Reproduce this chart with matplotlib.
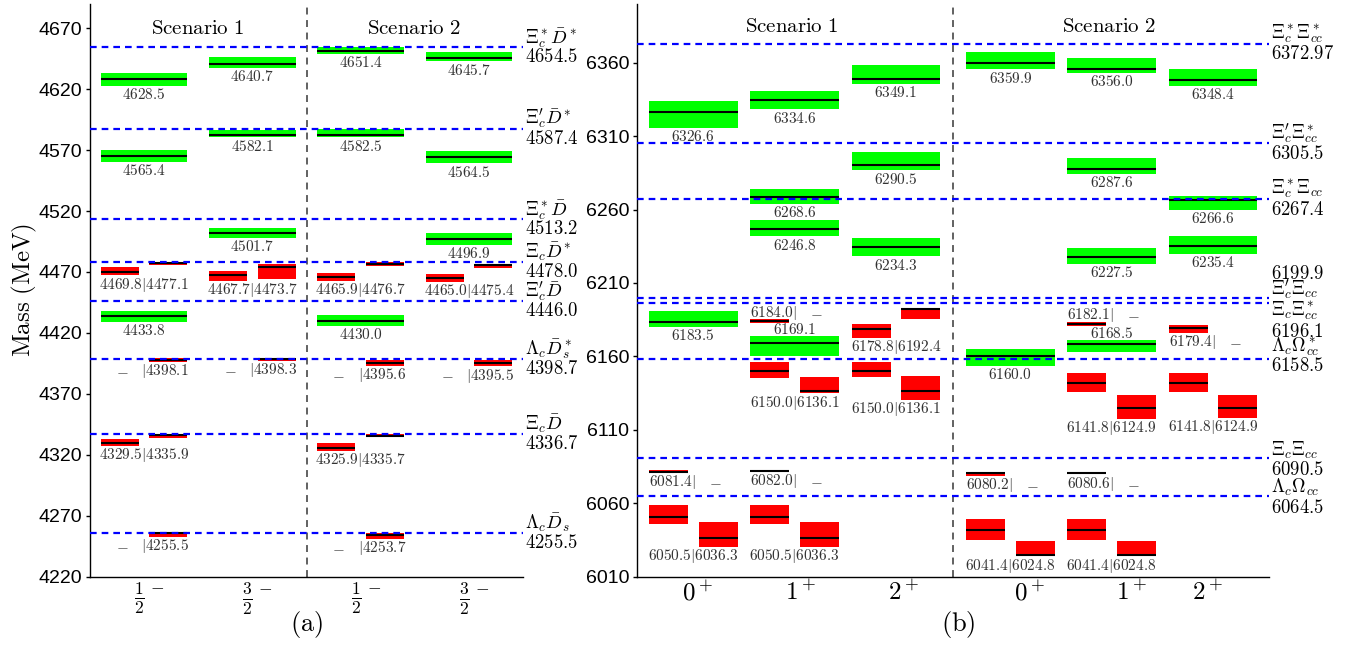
import numpy as np
import matplotlib
matplotlib.use('Agg')
import matplotlib.pyplot as plt

plt.rcParams['font.family'] = ['Liberation Sans', 'DejaVu Sans']
plt.rcParams['mathtext.fontset'] = 'cm'
plt.rcParams['lines.scale_dashes'] = False

nan = np.nan

# ---------------- Panel (a) data ----------------
a_tick_labels = [r'$\frac{1}{2}^-$', r'$\frac{3}{2}^-$', r'$\frac{1}{2}^-$', r'$\frac{3}{2}^-$']
scenario_names = ['Scenario 1', 'Scenario 2']

a_thr_names = [r'$\Xi_c^*\bar{D}^*$', r'$\Xi_c^{\prime}\bar{D}^*$', r'$\Xi_c^*\bar{D}$',
               r'$\Xi_c\bar{D}^*$', r'$\Xi_c^{\prime}\bar{D}$', r'$\Lambda_c\bar{D}_s^*$',
               r'$\Xi_c\bar{D}$', r'$\Lambda_c\bar{D}_s$']
a_thr_mass = [4654.5, 4587.4, 4513.2, 4478.0, 4446.0, 4398.7, 4336.7, 4255.5]

a_green_group = [0, 0, 0, 1, 1, 1, 2, 2, 2, 3, 3, 3]
a_green_mass = [4628.5, 4565.4, 4433.8, 4640.7, 4582.1, 4501.7,
                4651.4, 4582.5, 4430.0, 4645.7, 4564.5, 4496.9]
a_green_lo = [4622.9, 4560.5, 4429.2, 4637.7, 4580.6, 4498.2,
              4649.2, 4580.6, 4425.9, 4643.2, 4559.2, 4492.2]
a_green_hi = [4633.4, 4570.2, 4438.0, 4646.3, 4586.6, 4505.9,
              4655.0, 4587.4, 4434.7, 4650.9, 4569.6, 4501.8]

a_pair_group = [0, 0, 0, 0, 1, 1, 2, 2, 2, 2, 3, 3]
a_pair_left = [4469.8, nan, 4329.5, nan, 4467.7, nan, 4465.9, nan, 4325.9, nan, 4465.0, nan]
a_pair_left_lo = [4467.3, nan, 4327.4, nan, 4462.6, nan, 4462.9, nan, 4323.3, nan, 4462.0, nan]
a_pair_left_hi = [4474.3, nan, 4332.6, nan, 4470.8, nan, 4468.9, nan, 4329.4, nan, 4468.4, nan]
a_pair_right = [4477.1, 4398.1, 4335.9, 4255.5, 4473.7, 4398.3,
                4476.7, 4395.6, 4335.7, 4253.7, 4475.4, 4395.5]
a_pair_right_lo = [4475.7, 4396.4, 4334.0, 4252.7, 4464.3, 4397.2,
                   4475.2, 4393.1, 4334.8, 4251.0, 4473.0, 4392.8]
a_pair_right_hi = [4478.5, 4399.1, 4337.0, 4256.3, 4476.6, 4399.1,
                   4478.0, 4397.7, 4337.0, 4255.5, 4476.6, 4397.7]

# ---------------- Panel (b) data ----------------
b_tick_labels = [r'$0^+$', r'$1^+$', r'$2^+$', r'$0^+$', r'$1^+$', r'$2^+$']

b_thr_names = [r'$\Xi_c^*\Xi_{cc}^*$', r'$\Xi_c^{\prime}\Xi_{cc}^*$', r'$\Xi_c^*\Xi_{cc}$',
               r'$\Xi_c^{\prime}\Xi_{cc}$', r'$\Xi_c\Xi_{cc}^*$', r'$\Lambda_c\Omega_{cc}^*$',
               r'$\Xi_c\Xi_{cc}$', r'$\Lambda_c\Omega_{cc}$']
b_thr_mass = [6372.97, 6305.5, 6267.4, 6199.9, 6196.1, 6158.5, 6090.5, 6064.5]

b_green_group = [0, 0, 1, 1, 1, 1, 2, 2, 2, 3, 3, 4, 4, 4, 4, 5, 5, 5]
b_green_mass = [6326.6, 6183.5, 6334.6, 6268.6, 6246.8, 6169.1, 6349.1, 6290.5, 6234.3,
                6359.9, 6160.0, 6356.0, 6287.6, 6227.5, 6168.5, 6348.4, 6266.6, 6235.4]
b_green_lo = [6315.6, 6180.0, 6328.4, 6263.8, 6241.8, 6160.2, 6345.6, 6286.8, 6228.2,
              6355.6, 6153.4, 6353.0, 6284.2, 6222.9, 6162.9, 6344.2, 6259.7, 6229.7]
b_green_hi = [6333.8, 6190.7, 6340.6, 6273.8, 6252.7, 6173.7, 6358.3, 6299.0, 6240.4,
              6367.0, 6165.3, 6363.5, 6294.9, 6233.6, 6170.9, 6356.0, 6269.0, 6241.8]

b_pair_group = [0, 0, 1, 1, 1, 1, 2, 2, 3, 3, 4, 4, 4, 4, 5, 5]
b_pair_left = [6081.4, 6050.5, 6184.0, 6150.0, 6082.0, 6050.5, 6178.8, 6150.0,
               6080.2, 6041.4, 6182.1, 6141.8, 6080.6, 6041.4, 6179.4, 6141.8]
b_pair_left_lo = [6080.7, 6045.8, 6182.7, 6145.2, 6081.3, 6045.8, 6172.5, 6145.9,
                  6078.5, 6034.9, 6180.7, 6135.7, 6079.6, 6034.9, 6176.2, 6135.9]
b_pair_left_hi = [6082.3, 6058.5, 6185.2, 6155.9, 6082.6, 6058.5, 6181.8, 6155.9,
                  6080.8, 6049.0, 6183.4, 6148.4, 6081.2, 6049.0, 6181.1, 6148.4]
b_pair_right = [nan, 6036.3, nan, 6136.1, nan, 6036.3, 6192.4, 6136.1,
                nan, 6024.8, nan, 6124.9, nan, 6024.8, nan, 6124.9]
b_pair_right_lo = [nan, 6030.1, nan, 6134.8, nan, 6030.1, 6185.2, 6130.3,
                   nan, 6023.8, nan, 6117.3, nan, 6023.8, nan, 6118.2]
b_pair_right_hi = [nan, 6047.1, nan, 6145.7, nan, 6047.1, 6193.2, 6146.4,
                   nan, 6034.2, nan, 6133.9, nan, 6034.2, nan, 6133.9]

# ---------------- Layout (positions / styles) ----------------
PT = 0.72  # points per pixel at dpi 100
a_group_x = [1.0, 2.0, 3.0, 4.0]
a_tick_x = [1.045, 2.045, 3.05, 4.045]
b_group_x = [1.0, 2.0, 3.0, 4.13, 5.13, 6.13]
b_tick_x = [1.04, 2.06, 3.08, 4.32, 5.33, 6.08]
b_green_above = [False, False, False, False, False, True, False, False, False,
                 False, False, False, False, False, True, False, False, False]
b_pair_above = [False, False, True, False, False, False, False, False,
                False, False, True, False, False, False, False, False]
# threshold label baselines, px above (+) / below (-) the line
a_name_dy = [4.5] * 8
a_val_dy = [-15] * 8
b_name_dy = [5.5, 3.5, 5, 2.7, -12, 7.5, 3, 3.7]
b_val_dy = [-15, -16, -16.5, 18.7, -34, -12, -17, -16.5]

GREEN = '#00ff00'
RED = '#ff0000'
LABEL_C = '#333333'
VAL_FS = 11


def fmt(v):
    s = f'{v:.1f}'
    if abs(float(s) - v) > 1e-6:
        s = f'{v:.2f}'
    return s


def val_label(ax, x, y, txt, above, dx=0, ha='center'):
    dy = 2.5 if above else -13.5
    ax.annotate(txt, xy=(x, y), xytext=(dx * PT, dy * PT), textcoords='offset points',
                ha=ha, va='baseline', fontsize=VAL_FS, color=LABEL_C, zorder=6)


def draw_panel(ax, gx, hw, rw, g_grp, gm, glo, ghi, g_above,
               p_grp, pl, pllo, plhi, pr, prlo, prhi, p_above,
               thr_mass, thr_names, name_dy, val_dy, dash_off):
    gm = np.array(gm); glo = np.array(glo); ghi = np.array(ghi)
    xs = np.array([gx[g] for g in g_grp])
    ax.bar(xs - hw, ghi - glo, width=2 * hw, bottom=glo, align='edge',
           color=GREEN, lw=0, zorder=1)
    ax.hlines(gm, xs - hw, xs + hw, color='k', lw=1.5, zorder=2)
    for x, m, lo, hi, ab in zip(xs, gm, glo, ghi, g_above):
        val_label(ax, x, hi if ab else lo, f'${fmt(m)}$', ab)

    for i, g in enumerate(p_grp):
        cx = gx[g]
        los, his = [], []
        has_l = not np.isnan(pl[i])
        has_r = not np.isnan(pr[i])
        if has_l:
            x0 = cx - hw
            ax.bar(x0, plhi[i] - pllo[i], width=rw, bottom=pllo[i], align='edge',
                   color=RED, lw=0, zorder=1)
            ax.hlines(pl[i], x0, x0 + rw, color='k', lw=1.5, zorder=2)
            los.append(pllo[i]); his.append(plhi[i])
        if has_r:
            x0 = cx + hw - rw
            ax.bar(x0, prhi[i] - prlo[i], width=rw, bottom=prlo[i], align='edge',
                   color=RED, lw=0, zorder=1)
            ax.hlines(pr[i], x0, x0 + rw, color='k', lw=1.5, zorder=2)
            los.append(prlo[i]); his.append(prhi[i])
        ab = p_above[i]
        yref = max(his) if ab else min(los)
        if has_l and has_r:
            val_label(ax, cx, yref, f'${fmt(pl[i])}|{fmt(pr[i])}$', ab)
        elif has_l:
            val_label(ax, cx, yref, f'${fmt(pl[i])}|$', ab, dx=2.5, ha='right')
            val_label(ax, cx, yref, r'$-$', ab, dx=dash_off)
        else:
            val_label(ax, cx, yref, f'$|{fmt(pr[i])}$', ab, dx=-3, ha='left')
            val_label(ax, cx, yref, r'$-$', ab, dx=-dash_off)

    for m, nm, ndy, vdy in zip(thr_mass, thr_names, name_dy, val_dy):
        ax.axhline(m, color='#0000ff', lw=1.6, dashes=(4.8, 3.6), zorder=3)
        ax.annotate(nm, xy=(1, m), xycoords=('axes fraction', 'data'),
                    xytext=(2 * PT, ndy * PT), textcoords='offset points',
                    ha='left', va='baseline', fontsize=13.5, color='k', annotation_clip=False)
        ax.annotate(f'${fmt(m)}$', xy=(1, m), xycoords=('axes fraction', 'data'),
                    xytext=(2 * PT, vdy * PT), textcoords='offset points',
                    ha='left', va='baseline', fontsize=13.5, color='k', annotation_clip=False)


def style_axes(ax):
    for s in ['top', 'right']:
        ax.spines[s].set_visible(False)
    ax.spines['left'].set_linewidth(1.0)
    ax.spines['bottom'].set_linewidth(1.0)
    ax.tick_params(axis='y', direction='out', length=3, width=1, labelsize=14, pad=2.5)
    ax.tick_params(axis='x', length=0, labelsize=18, pad=3)


fig = plt.figure(figsize=(13.61, 6.47), dpi=100)
axA = fig.add_axes([0.06613, 0.10896, 0.31815, 0.88485])
axB = fig.add_axes([0.46782, 0.10896, 0.46422, 0.88485])

# Panel (a)
draw_panel(axA, a_group_x, 0.4, 0.351, a_green_group, a_green_mass, a_green_lo, a_green_hi,
           [False] * len(a_green_mass),
           a_pair_group, a_pair_left, a_pair_left_lo, a_pair_left_hi,
           a_pair_right, a_pair_right_lo, a_pair_right_hi, [False] * len(a_pair_group),
           a_thr_mass, a_thr_names, a_name_dy, a_val_dy, 22)
axA.set_xlim(0.5, 4.5)
axA.set_ylim(4220, 4690)
axA.set_yticks(np.arange(4220, 4671, 50))
axA.set_xticks(a_tick_x)
axA.set_xticklabels(a_tick_labels)
axA.axvline(2.5, color='#555555', lw=1.3, dashes=(5, 4), zorder=0)
axA.text(1.49, 4670, r'$\mathrm{Scenario\ 1}$', fontsize=15, ha='center', va='center')
axA.text(3.49, 4670, r'$\mathrm{Scenario\ 2}$', fontsize=15, ha='center', va='center')
style_axes(axA)

# Panel (b)
draw_panel(axB, b_group_x, 0.438, 0.385, b_green_group, b_green_mass, b_green_lo, b_green_hi,
           b_green_above,
           b_pair_group, b_pair_left, b_pair_left_lo, b_pair_left_hi,
           b_pair_right, b_pair_right_lo, b_pair_right_hi, b_pair_above,
           b_thr_mass, b_thr_names, b_name_dy, b_val_dy, 22)
axB.set_xlim(0.441, 6.678)
axB.set_ylim(6010, 6400)
axB.set_yticks(np.arange(6010, 6361, 50))
axB.set_xticks(b_tick_x)
axB.set_xticklabels(b_tick_labels)
axB.axvline(3.56, color='#555555', lw=1.3, dashes=(5, 4), zorder=0)
axB.text(1.97, 6384.4, r'$\mathrm{Scenario\ 1}$', fontsize=15, ha='center', va='center')
axB.text(5.10, 6384.4, r'$\mathrm{Scenario\ 2}$', fontsize=15, ha='center', va='center')
style_axes(axB)

fig.text(24.5 / 1361, 1 - 290 / 647, r'$\mathrm{Mass\ (MeV)}$', rotation=90,
         ha='center', va='center', fontsize=18)
fig.text(306.5 / 1361, 1 - 625 / 647, r'$\mathrm{(a)}$', ha='center', va='center', fontsize=19)
fig.text(958 / 1361, 1 - 625 / 647, r'$\mathrm{(b)}$', ha='center', va='center', fontsize=19)

fig.savefig('out.png', dpi=100)
